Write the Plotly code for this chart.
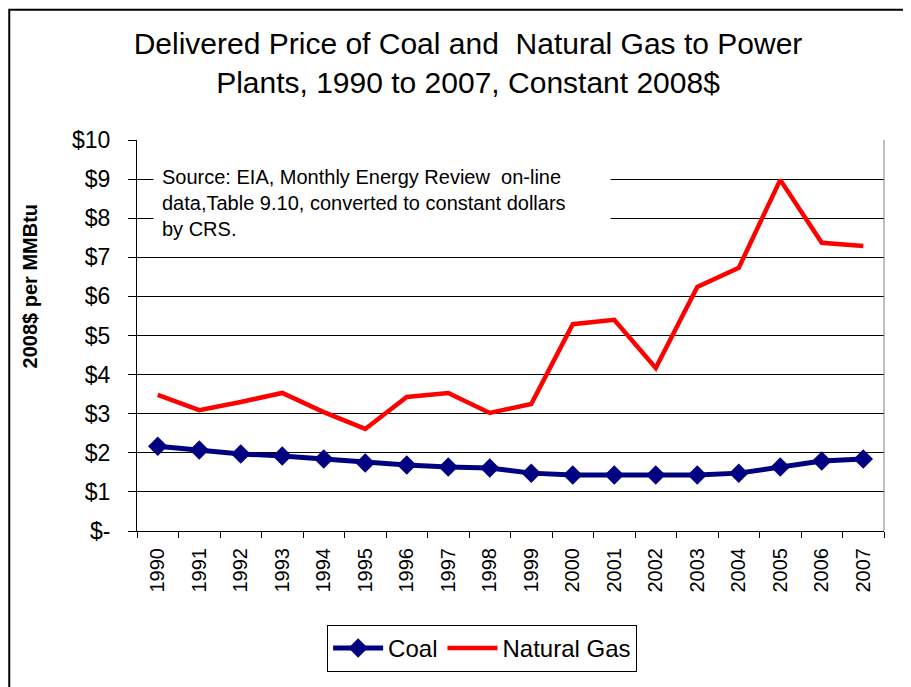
import plotly.graph_objects as go

years = [str(y) for y in range(1990, 2008)]
coal = [2.17, 2.07, 1.97, 1.92, 1.84, 1.74, 1.69, 1.64, 1.61, 1.48,
        1.43, 1.43, 1.43, 1.43, 1.48, 1.64, 1.79, 1.84]
gas = [3.48, 3.09, 3.30, 3.53, 3.04, 2.61, 3.43, 3.53, 3.02, 3.25,
       5.29, 5.40, 4.17, 6.24, 6.73, 8.98, 7.37, 7.29]
y_ticks = list(range(0, 11))
y_labels = ["$-"] + ["$" + str(v) for v in range(1, 11)]

font = "Liberation Sans, Arial, sans-serif"

fig = go.Figure()
fig.add_trace(go.Scatter(x=years, y=coal, name="Coal", mode="lines+markers",
                         line=dict(color="#000080", width=5),
                         marker=dict(symbol="diamond", size=15, color="#000080")))
fig.add_trace(go.Scatter(x=years, y=gas, name="Natural Gas", mode="lines",
                         line=dict(color="#FF0000", width=4.5)))

# the page adds an 8px body margin, so margins are 8px smaller than on screen
fig.update_layout(
    width=911, height=687,
    margin=dict(l=129, r=35, t=132, b=164, autoexpand=False),
    paper_bgcolor="white", plot_bgcolor="white",
    font=dict(family=font, color="black"),
    title=dict(text="Delivered Price of Coal and  Natural Gas to Power<br>Plants, 1990 to 2007, Constant 2008$",
               x=460 / 911, xanchor="center", y=1 - 45.5 / 687, yanchor="middle",
               font=dict(size=30, family=font)),
    showlegend=True,
    legend=dict(orientation="h", x=0.462, xanchor="center", y=-0.3, yanchor="middle",
                bordercolor="black", borderwidth=1, font=dict(size=24),
                itemwidth=50, traceorder="normal"),
)

fig.update_xaxes(type="category", range=[-0.5, 17.5], automargin=False, showgrid=False,
                 showline=True, linecolor="black", linewidth=1, ticks="outside",
                 tickson="boundaries", ticklen=6, tickcolor="black", tickangle=-90,
                 ticklabelstandoff=8, tickfont=dict(size=20))
fig.update_yaxes(range=[0, 10], automargin=False, tickvals=y_ticks, ticktext=y_labels,
                 showgrid=True, gridcolor="black", gridwidth=1, showline=True,
                 linecolor="black", ticks="outside", ticklen=8, tickcolor="black",
                 ticklabelstandoff=13, tickfont=dict(size=23), zeroline=False)

# y axis title
fig.add_annotation(text="<b>2008$ per MMBtu</b>", xref="paper", yref="paper",
                   x=-0.143, y=0.626, xanchor="center", yanchor="middle", textangle=-90,
                   showarrow=False, font=dict(size=20))
# source note
fig.add_annotation(text="Source: EIA, Monthly Energy Review  on-line<br>data,Table 9.10, converted to constant dollars<br>by CRS.",
                   xref="paper", yref="paper", x=0.021, y=0.957, xanchor="left", yanchor="top",
                   align="left", width=440, showarrow=False, bgcolor="white", borderpad=8,
                   font=dict(size=20))

# right edge of plot area and outer chart frame
fig.add_shape(type="line", xref="paper", yref="paper", x0=1, x1=1, y0=0, y1=1,
              line=dict(color="#808080", width=1))
fig.add_shape(type="rect", xref="paper", yref="paper", x0=-0.171, x1=1.06,
              y0=-0.5, y1=1.333, line=dict(color="black", width=2))

fig.write_html("out.html")
